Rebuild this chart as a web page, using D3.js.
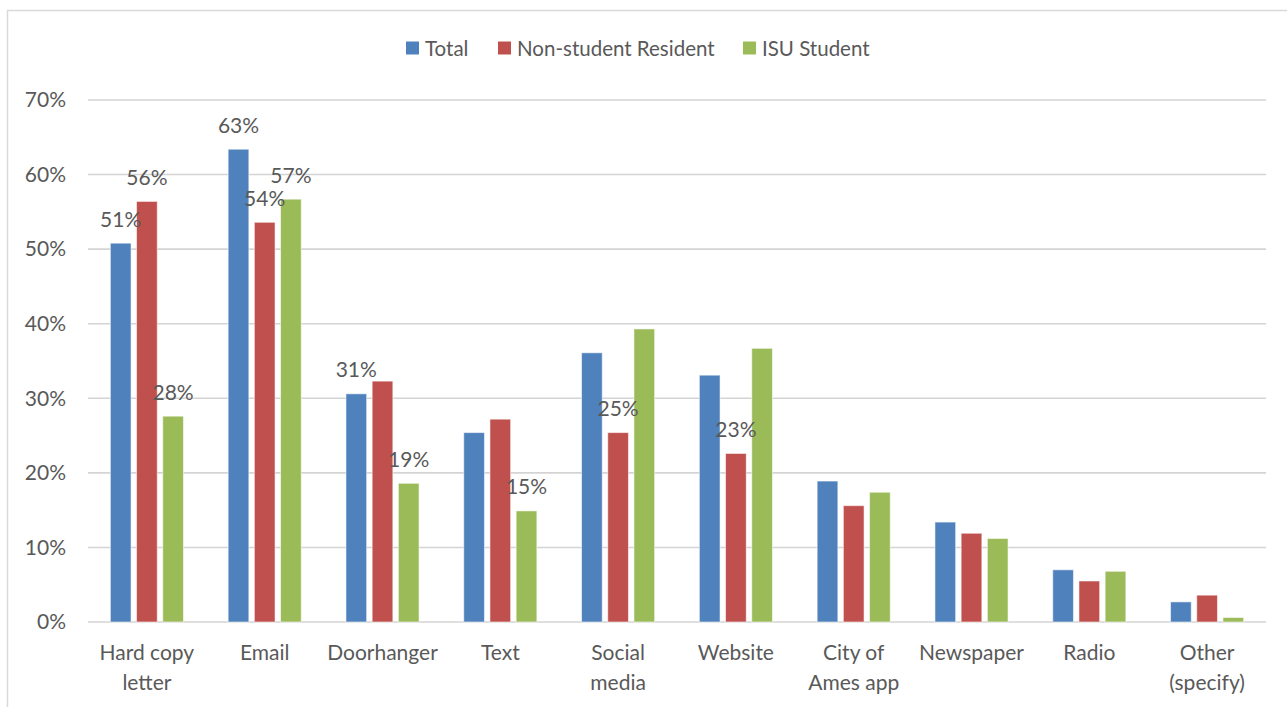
<!DOCTYPE html>
<html>
<head>
<meta charset="utf-8">
<script src="https://cdn.jsdelivr.net/npm/d3@7"></script>
<style>
  body { margin: 0; background: #fff; }
  text { font-family: Lato, "Open Sans", sans-serif; fill: #595959; }
</style>
</head>
<body>
<div id="chart"></div>
<script>
// data
var categories = ["Hard copy letter", "Email", "Doorhanger", "Text", "Social media",
    "Website", "City of Ames app", "Newspaper", "Radio", "Other (specify)"];
var seriesNames = ["Total", "Non-student Resident", "ISU Student"];
var totalValues = [50.8, 63.4, 30.6, 25.4, 36.1, 33.1, 18.9, 13.4, 7.0, 2.7];
var residentValues = [56.4, 53.6, 32.3, 27.2, 25.4, 22.6, 15.6, 11.9, 5.5, 3.6];
var studentValues = [27.6, 56.7, 18.6, 14.9, 39.3, 36.7, 17.4, 11.2, 6.8, 0.6];
// which bars carry a data label (per series, per category)
var totalLabels = [1, 1, 1, 0, 0, 0, 0, 0, 0, 0];
var residentLabels = [1, 1, 0, 0, 1, 1, 0, 0, 0, 0];
var studentLabels = [1, 1, 1, 1, 0, 0, 0, 0, 0, 0];
var yTicks = [0, 10, 20, 30, 40, 50, 60, 70];
var colors = ["#4F81BD", "#C0504D", "#9BBB59"];

var svgWidth = 1287;
var svgHeight = 707;

var margin = { top: 100, right: 21, bottom: 85, left: 88 };
var width = svgWidth - margin.left - margin.right;
var height = svgHeight - margin.top - margin.bottom;

var svg = d3.select("#chart")
    .append("svg")
    .attr("width", svgWidth)
    .attr("height", svgHeight);

// chart frame
svg.append("rect")
    .attr("x", 7.5)
    .attr("y", 10.5)
    .attr("width", 1290)
    .attr("height", 710)
    .attr("fill", "none")
    .attr("stroke", "#d9d9d9")
    .attr("stroke-width", 1.5);

var chartGroup = svg.append("g")
    .attr("transform", `translate(${margin.left}, ${margin.top})`);

var xScale = d3.scaleBand()
    .domain(categories)
    .range([0, width])
    .padding(0);

var groupWidth = 73.1;
var x1Scale = d3.scaleBand()
    .domain(seriesNames)
    .range([-groupWidth / 2, groupWidth / 2])
    .paddingInner(0.21)
    .paddingOuter(0);

var yScale = d3.scaleLinear()
    .domain([0, 70])
    .range([height, 0]);

// gridlines
chartGroup.append("g")
    .selectAll("line")
    .data(yTicks)
    .enter()
    .append("line")
    .attr("x1", 0)
    .attr("x2", width)
    .attr("y1", d => yScale(d))
    .attr("y2", d => yScale(d))
    .attr("stroke", "#d4d4d4")
    .attr("stroke-width", 1.6);

// y axis labels
var leftAxis = d3.axisLeft(yScale)
    .tickValues(yTicks)
    .tickSize(0)
    .tickPadding(22)
    .tickFormat(d => d + "%");

chartGroup.append("g")
    .call(leftAxis)
    .call(g => g.select(".domain").remove())
    .selectAll("text")
    .attr("font-size", 21)
    .attr("font-family", "Lato, sans-serif")
    .attr("fill", "#595959");

// x axis labels (wrapped on two lines like the original)
var wrapped = {
    "Hard copy letter": ["Hard copy", "letter"],
    "Social media": ["Social", "media"],
    "City of Ames app": ["City of", "Ames app"],
    "Other (specify)": ["Other", "(specify)"]
};

var xLabels = chartGroup.append("g")
    .selectAll("text")
    .data(categories)
    .enter()
    .append("text")
    .attr("x", d => xScale(d) + xScale.bandwidth() / 2)
    .attr("y", height + 38)
    .attr("text-anchor", "middle")
    .attr("font-size", 21);

xLabels.each(function(d) {
    var lines = wrapped[d] || [d];
    var t = d3.select(this);
    lines.forEach((line, i) => {
        t.append("tspan")
            .attr("x", xScale(d) + xScale.bandwidth() / 2)
            .attr("dy", i === 0 ? 0 : 30)
            .text(line);
    });
});

// bars
var allValues = [totalValues, residentValues, studentValues];
var allLabels = [totalLabels, residentLabels, studentLabels];

var barData = [];
categories.forEach((c, i) => {
    seriesNames.forEach((s, j) => {
        barData.push({ category: c, series: s, value: allValues[j][i], label: allLabels[j][i], color: colors[j] });
    });
});

var barsGroup = chartGroup.append("g");

barsGroup.selectAll("rect")
    .data(barData)
    .enter()
    .append("rect")
    .attr("x", d => xScale(d.category) + xScale.bandwidth() / 2 + x1Scale(d.series))
    .attr("y", d => yScale(d.value))
    .attr("width", x1Scale.bandwidth())
    .attr("height", d => height - yScale(d.value))
    .attr("fill", d => d.color)
    .attr("stroke", "rgba(255,255,255,0.55)")
    .attr("stroke-width", 1);

// data labels
chartGroup.append("g")
    .selectAll("text")
    .data(barData.filter(d => d.label))
    .enter()
    .append("text")
    .attr("x", d => xScale(d.category) + xScale.bandwidth() / 2 + x1Scale(d.series) + x1Scale.bandwidth() / 2)
    .attr("y", d => yScale(d.value) - 25)
    .attr("text-anchor", "middle")
    .attr("dominant-baseline", "central")
    .attr("font-size", 21)
    .attr("fill", "#404040")
    .text(d => Math.round(d.value) + "%");

// legend
var legendX = [406, 498, 743];
var legend = svg.append("g");

seriesNames.forEach((s, j) => {
    legend.append("rect")
        .attr("x", legendX[j])
        .attr("y", 41.5)
        .attr("width", 13)
        .attr("height", 13)
        .attr("fill", colors[j]);
    legend.append("text")
        .attr("x", legendX[j] + 19)
        .attr("y", 48)
        .attr("dominant-baseline", "central")
        .attr("font-size", 20.5)
        .text(s);
});
</script>
</body>
</html>
